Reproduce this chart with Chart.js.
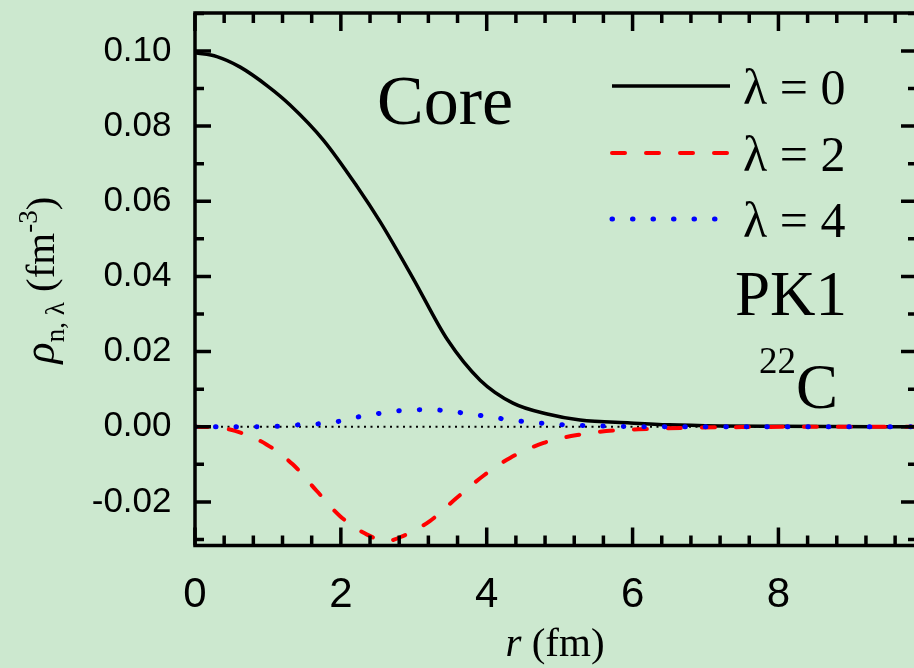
<!DOCTYPE html>
<html lang="en">
  <head>
    <meta charset="UTF-8" />
    <title>Core density, PK1, 22C</title>
    <script src="https://cdn.jsdelivr.net/npm/chart.js@4.4.0/dist/chart.umd.min.js"></script>
    <style>
      html,
      body {
        margin: 0;
        padding: 0;
        overflow: hidden;
        background-color: #cce8cf;
      }

      .chart-box {
        position: relative;
        width: 922px;
        height: 668px;
      }
    </style>
  </head>
  <body>
    <div class="chart-box">
      <canvas id="densityChart"></canvas>
    </div>

    <script>
      // lambda = 0 (solid black)
      const r0 = [0, 0.3, 0.62, 1.0, 1.3, 1.76, 2.22, 2.54, 2.99, 3.46, 3.91, 4.36, 4.83, 5.28, 5.97, 6.5, 7.2, 8.0, 9.9];
      const rho0 = [0.0995, 0.0985, 0.0957, 0.0906, 0.0857, 0.0763, 0.064, 0.0545, 0.0395, 0.0232, 0.0124, 0.0063, 0.0034, 0.0018, 0.001, 0.0005, 0.0002, 0.0001, 0];

      // lambda = 2 (red dashed)
      const r2 = [0, 0.3, 0.55, 0.98, 1.34, 1.67, 1.99, 2.36, 2.63, 2.85, 3.22, 3.59, 3.95, 4.32, 4.78, 5.24, 5.74, 6.2, 6.68, 7.5, 8.5, 9.9];
      const rho2 = [0, -0.0002, -0.0011, -0.0047, -0.01, -0.0171, -0.0238, -0.0287, -0.0304, -0.0291, -0.0251, -0.0189, -0.0131, -0.0083, -0.0043, -0.0022, -0.001, -0.0006, -0.0003, -0.0001, 0, 0];

      // lambda = 4 (blue dotted)
      const r4 = [0, 0.5, 1.1, 1.41, 1.71, 1.99, 2.26, 2.54, 2.81, 3.11, 3.38, 3.66, 3.95, 4.22, 4.5, 4.79, 5.08, 5.35, 5.8, 6.5, 7.5, 9.9];
      const rho4 = [0, 0, 0.0001, 0.0005, 0.0008, 0.0015, 0.0027, 0.0036, 0.0043, 0.0045, 0.0044, 0.0037, 0.0029, 0.0021, 0.0014, 0.0009, 0.0005, 0.0003, 0.0001, 0, 0, 0];

      // dotted zero reference
      const rZero = [0, 9.9];
      const rhoZero = [0, 0];

      const seriesLabels = ["\u03bb = 0", "\u03bb = 2", "\u03bb = 4"];

      const xTickValues = [0, 2, 4, 6, 8];
      const yTickValues = [-0.02, 0, 0.02, 0.04, 0.06, 0.08, 0.1];
      const xMin = 0, xMax = 9.9;
      const yMin = -0.0316, yMax = 0.1101;
      const xMinorStep = 0.4;
      const yMinorStep = 0.01;

      const SERIF = '"Liberation Serif", "Times New Roman", serif';
      const SANS = '"Liberation Sans", Arial, sans-serif';

      function pairs(xs, ys) {
        return xs.map((x, i) => ({ x: x, y: ys[i] }));
      }

      // draws a row of text runs (text, font, vertical shift)
      function drawRuns(ctx, runs, x, y, align) {
        let total = 0;
        runs.forEach((run) => {
          ctx.font = run.font;
          total += ctx.measureText(run.text).width;
        });
        let cx = align === "center" ? x - total / 2 : x;
        runs.forEach((run) => {
          ctx.font = run.font;
          ctx.fillText(run.text, cx, y + (run.dy || 0));
          cx += ctx.measureText(run.text).width;
        });
      }

      // frame, inward ticks on all four sides
      const framePlugin = {
        id: "frame",
        afterDatasetsDraw(chart) {
          const { ctx, chartArea: a, scales } = chart;
          const xs = scales.x, ys = scales.y;
          ctx.save();
          ctx.strokeStyle = "#000";
          ctx.lineWidth = 3.5;
          ctx.lineCap = "butt";
          ctx.strokeRect(a.left, a.top, a.right - a.left, a.bottom - a.top);

          ctx.beginPath();
          for (let i = 0; i * xMinorStep <= xMax + 1e-9; i++) {
            const px = xs.getPixelForValue(i * xMinorStep);
            const len = i % 5 === 0 ? 18 : 10;
            ctx.moveTo(px, a.bottom);
            ctx.lineTo(px, a.bottom - len);
            ctx.moveTo(px, a.top);
            ctx.lineTo(px, a.top + len);
          }
          for (let i = Math.ceil(yMin / yMinorStep); i * yMinorStep <= yMax + 1e-9; i++) {
            const py = ys.getPixelForValue(i * yMinorStep);
            const len = i % 2 === 0 ? 16 : 9;
            ctx.moveTo(a.left, py);
            ctx.lineTo(a.left + len, py);
            ctx.moveTo(a.right, py);
            ctx.lineTo(a.right - len, py);
          }
          ctx.stroke();
          ctx.restore();
        },
        afterDraw(chart) {
          const ctx = chart.ctx;
          ctx.save();
          ctx.fillStyle = "#000";
          ctx.textBaseline = "alphabetic";
          ctx.textAlign = "left";

          // legend
          const rows = [86, 153, 219];
          chart.data.datasets.forEach((ds, i) => {
            if (!ds.label) return;
            const y = rows[i];
            ctx.save();
            ctx.strokeStyle = ds.borderColor;
            ctx.lineWidth = ds.borderWidth;
            ctx.lineCap = ds.borderCapStyle || "butt";
            ctx.setLineDash(ds.borderDash || []);
            ctx.beginPath();
            ctx.moveTo(612, y);
            ctx.lineTo(730, y);
            ctx.stroke();
            ctx.restore();
            ctx.font = "50px " + SERIF;
            ctx.fillText(ds.label, 743, y + 18);
          });

          // annotations
          ctx.font = "70px " + SERIF;
          ctx.fillText("Core", 377, 124);
          ctx.font = "63px " + SERIF;
          ctx.fillText("PK1", 735, 315);
          drawRuns(ctx, [
            { text: "22", font: "37px " + SERIF, dy: -35 },
            { text: "C", font: "63px " + SERIF }
          ], 759, 408, "left");

          // x title
          drawRuns(ctx, [
            { text: "r", font: "italic 41px " + SERIF },
            { text: " (fm)", font: "41px " + SERIF }
          ], 555, 656, "center");

          // y title
          ctx.translate(54, 280);
          ctx.rotate(-Math.PI / 2);
          drawRuns(ctx, [
            { text: "\u03c1", font: "italic 44px " + SERIF },
            { text: "n, \u03bb", font: "27px " + SERIF, dy: 10 },
            { text: " (fm", font: "41px " + SERIF },
            { text: "-3", font: "27px " + SERIF, dy: -17 },
            { text: ")", font: "41px " + SERIF }
          ], 0, 0, "center");
          ctx.restore();
        }
      };

      const densityConfig = {
        type: "line",
        data: {
          datasets: [
            {
              label: seriesLabels[0],
              data: pairs(r0, rho0),
              borderColor: "#000000",
              borderWidth: 3.5,
              order: 3
            },
            {
              label: seriesLabels[1],
              data: pairs(r2, rho2),
              borderColor: "#ff0000",
              borderWidth: 4,
              borderDash: [13, 21],
              borderCapStyle: "round",
              order: 2
            },
            {
              label: seriesLabels[2],
              data: pairs(r4, rho4),
              borderColor: "#0000ff",
              borderWidth: 5,
              borderDash: [0.5, 20],
              borderCapStyle: "round",
              order: 1
            },
            {
              label: "",
              data: pairs(rZero, rhoZero),
              borderColor: "#000000",
              borderWidth: 2,
              borderDash: [2, 4.5],
              order: 4
            }
          ]
        },
        options: {
          responsive: true,
          maintainAspectRatio: false,
          animation: false,
          layout: { padding: { left: 0, top: 13, right: 5, bottom: 0 } },
          elements: {
            point: { radius: 0 },
            line: { cubicInterpolationMode: "monotone", fill: false }
          },
          plugins: {
            legend: { display: false },
            tooltip: { enabled: false }
          },
          scales: {
            x: {
              type: "linear",
              min: xMin,
              max: xMax,
              grid: { display: false },
              border: { display: false },
              afterBuildTicks: (s) => {
                s.ticks = xTickValues.map((v) => ({ value: v }));
              },
              afterFit: (s) => {
                s.height = 122.5;
                s.paddingLeft = 0;
                s.paddingRight = 0;
              },
              ticks: {
                color: "#000",
                padding: 17,
                maxRotation: 0,
                font: { family: SANS, size: 42 },
                callback: (v) => String(v)
              }
            },
            y: {
              type: "linear",
              min: yMin,
              max: yMax,
              grid: { display: false },
              border: { display: false },
              afterBuildTicks: (s) => {
                s.ticks = yTickValues.map((v) => ({ value: v }));
              },
              afterFit: (s) => {
                s.width = 195;
                s.paddingTop = 0;
                s.paddingBottom = 0;
              },
              ticks: {
                color: "#000",
                padding: 15.5,
                font: { family: SANS, size: 35 },
                callback: (v) => v.toFixed(2)
              }
            }
          }
        },
        plugins: [framePlugin]
      };

      const densityChart = new Chart(
        document.getElementById("densityChart"),
        densityConfig
      );
    </script>
  </body>
</html>
